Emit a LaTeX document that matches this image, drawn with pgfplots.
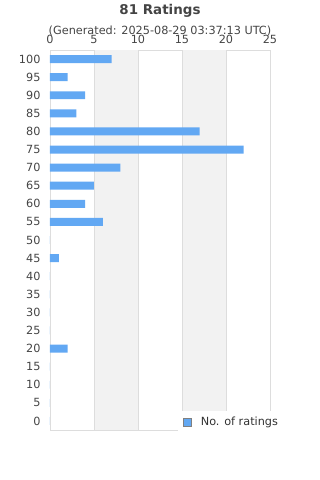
\documentclass[border=0pt]{standalone}
\usepackage{pgfplots}
\pgfplotsset{compat=1.18}
\usepackage{fontspec}
\setmainfont{DejaVu Sans}
\definecolor{barblue}{HTML}{62A8F3}
\definecolor{txt}{HTML}{444444}
\definecolor{gridc}{HTML}{DDDDDD}
\definecolor{band}{HTML}{F2F2F2}
\begin{document}
\begin{tikzpicture}
\begin{axis}[
  at={(50bp,50bp)}, anchor=south west,
  scale only axis, width=220bp, height=380bp,
  xmin=0, xmax=25, ymin=-2.5, ymax=102.5,
  xtick={0,5,...,25}, ytick={0,5,...,100},
  xticklabel pos=top,
  tick style={draw=none},
  axis line style={gridc, line width=0.8bp},
  xmajorgrids, grid style={gridc, line width=0.8bp},
  tick label style={font=\fontsize{11.3}{13}\selectfont, text=txt},
  /pgf/number format/assume math mode=true,
  xticklabel style={yshift=3bp},
  yticklabel style={xshift=-6bp},
  legend style={at={(0.582,0.05)}, anchor=north west, draw=none, fill=white,
    font=\fontsize{11.3}{13}\selectfont, text=black!80, inner xsep=5bp, inner ysep=4bp},
]
\addplot[fill=band, draw=none, forget plot] coordinates {(5,-2.5) (10,-2.5) (10,102.5) (5,102.5)} -- cycle;
\addplot[fill=band, draw=none, forget plot] coordinates {(15,-2.5) (20,-2.5) (20,102.5) (15,102.5)} -- cycle;
\addplot[gridc, line width=0.8bp, forget plot] coordinates {(5,-2.5) (5,102.5)};
\addplot[gridc, line width=0.8bp, forget plot] coordinates {(10,-2.5) (10,102.5)};
\addplot[gridc, line width=0.8bp, forget plot] coordinates {(15,-2.5) (15,102.5)};
\addplot[gridc, line width=0.8bp, forget plot] coordinates {(20,-2.5) (20,102.5)};
\addplot[xbar, bar width=2.2, bar shift=0pt, fill=barblue, draw=none,
  legend image code/.code={\draw[fill=barblue, draw=gray, line width=0.6bp] (4bp,-4bp) rectangle (12bp,4bp);}] coordinates {
(7,100) (2,95) (4,90) (3,85) (17,80) (22,75) (8,70) (5,65) (4,60) (6,55)
(0,50) (1,45) (0,40) (0,35) (0,30) (0,25) (2,20) (0,15) (0,10) (0,5) (0,0)};
\addlegendentry{\hspace{7bp}No. of ratings}
\end{axis}
\node[text=txt, font=\fontsize{13.5}{15}\selectfont\bfseries] at (160bp,469bp) {81 Ratings};
\node[text=txt, font=\fontsize{11.3}{13}\selectfont] at (160bp,449bp) {(Generated: 2025-08-29 03:37:13 UTC)};
\path (0bp,0bp) rectangle (320bp,480bp);
\end{tikzpicture}
\end{document}
